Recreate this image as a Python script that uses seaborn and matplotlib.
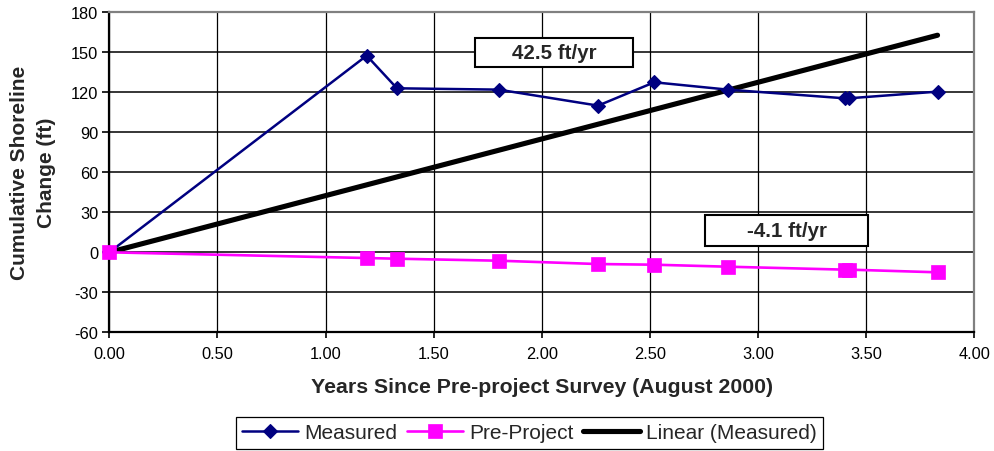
import matplotlib
matplotlib.use("Agg")
import matplotlib.pyplot as plt
import matplotlib.patches as mpatches
import numpy as np
import pandas as pd
import seaborn as sns

# values
years = [0.00, 1.19, 1.33, 1.80, 2.26, 2.52, 2.86, 3.40, 3.42, 3.83]
measured = [0.0, 147.5, 123.0, 122.0, 110.0, 127.5, 122.0, 115.5, 115.5, 120.5]
pre_project = [0.0, -4.3, -4.8, -6.3, -8.8, -9.3, -10.8, -13.0, -13.0, -15.0]
trend_years = [0.00, 3.83]
trend_values = [0.0, 162.8]
rate_labels = ["42.5 ft/yr", "-4.1 ft/yr"]
x_ticks = [0.0, 0.5, 1.0, 1.5, 2.0, 2.5, 3.0, 3.5, 4.0]
y_ticks = [-60, -30, 0, 30, 60, 90, 120, 150, 180]

sns.set_theme(style="white")
plt.rcParams["font.family"] = ["Liberation Sans", "DejaVu Sans"]

df = pd.DataFrame({"years": years, "measured": measured, "pre_project": pre_project})
trend = pd.DataFrame({"years": trend_years, "value": trend_values})

fig = plt.figure(figsize=(9.95, 4.52), dpi=100)
ax = fig.add_axes([0.1099, 0.2626, 0.8693, 0.7080])

sns.lineplot(data=df, x="years", y="measured", ax=ax, color="#000080",
             linewidth=1.8, marker="D", markersize=7.6, markeredgewidth=0.8,
             markeredgecolor="#000080", label="Measured", errorbar=None,
             clip_on=False, zorder=3)
sns.lineplot(data=df, x="years", y="pre_project", ax=ax, color="#FF00FF",
             linewidth=1.9, marker="s", markersize=10.5, markeredgewidth=0.5,
             markeredgecolor="#FF00FF", label="Pre-Project", errorbar=None,
             clip_on=False, zorder=3.1)
sns.lineplot(data=trend, x="years", y="value", ax=ax, color="black",
             linewidth=3.7, label="Linear (Measured)", errorbar=None,
             zorder=2.9)

ax.set_xlim(0, 4)
ax.set_ylim(-60, 180)
ax.set_xticks(x_ticks)
ax.set_xticklabels([f"{t:.2f}" for t in x_ticks])
ax.set_yticks(y_ticks)
ax.set_yticklabels([str(t) for t in y_ticks])
ax.tick_params(axis="both", labelsize=11.8, colors="black")
ax.tick_params(axis="x", direction="out", length=4, width=1.2, pad=6, bottom=True)
ax.tick_params(axis="y", direction="out", length=5, width=1.2, pad=3, left=True)

ax.set_axisbelow(True)
ax.grid(axis="y", color="black", linewidth=1.1)
ax.grid(axis="x", color="black", linewidth=0.9)

for side in ["left", "bottom"]:
    ax.spines[side].set_color("black")
    ax.spines[side].set_linewidth(1.6)
for side in ["top", "right"]:
    ax.spines[side].set_color("#808080")
    ax.spines[side].set_linewidth(1.6)

ax.set_xlabel("Years Since Pre-project Survey (August 2000)",
              fontsize=15.3, fontweight="bold")
ax.set_ylabel("Cumulative Shoreline\nChange (ft)", fontsize=15,
              fontweight="bold", linespacing=1.5)
ax.xaxis.set_label_coords(0.5, -0.14)
ax.yaxis.set_label_coords(-0.062, 0.5)

# rate labels in boxes
boxes = [(0.4228, 0.8291, 0.1827, 0.0906), (0.6887, 0.2697, 0.1884, 0.0969)]
for (x0, y0, w, h), txt in zip(boxes, rate_labels):
    ax.add_patch(mpatches.Rectangle((x0, y0), w, h, transform=ax.transAxes,
                                    facecolor="white", edgecolor="black",
                                    linewidth=1.5, zorder=4))
    ax.text(x0 + w / 2, y0 + h / 2, txt, transform=ax.transAxes,
            ha="center", va="center", fontsize=14.8, fontweight="bold", zorder=5)

handles, labels = ax.get_legend_handles_labels()
if ax.get_legend() is not None:
    ax.get_legend().remove()
leg = fig.legend(handles, labels, loc="center", bbox_to_anchor=(0.532, 0.040),
                 ncol=3, fontsize=15, frameon=True, fancybox=False,
                 edgecolor="black", framealpha=1, borderpad=0.3,
                 handlelength=2.7, handletextpad=0.3, columnspacing=0.45,
                 borderaxespad=0)
leg.get_frame().set_linewidth(0.9)

fig.savefig("out.png", dpi=100)
